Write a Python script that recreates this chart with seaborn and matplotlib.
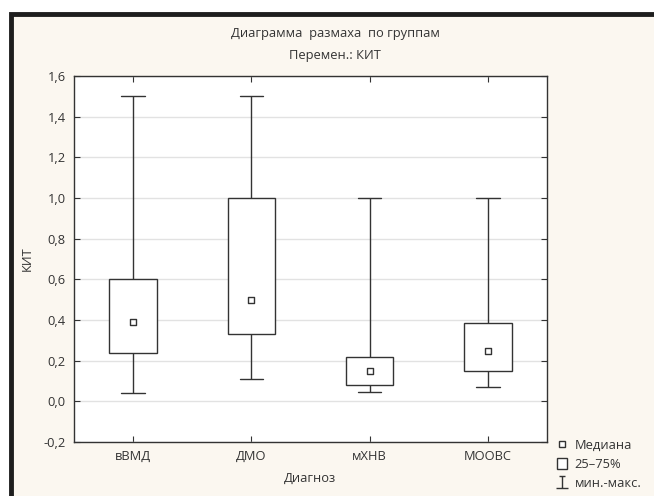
import numpy as np
import pandas as pd
import matplotlib
matplotlib.use("Agg")
import matplotlib.pyplot as plt
import seaborn as sns
from matplotlib.patches import Rectangle, Patch
from matplotlib.lines import Line2D
from matplotlib.path import Path
from matplotlib.ticker import FuncFormatter, MultipleLocator

# ---- data ----
groups = ["вВМД", "ДМО", "мХНВ", "МООВС"]
mins = [0.042, 0.11, 0.045, 0.07]
q1 = [0.238, 0.333, 0.08, 0.147]
medians = [0.39, 0.50, 0.148, 0.25]
q3 = [0.60, 1.00, 0.218, 0.385]
maxs = [1.50, 1.50, 1.00, 1.00]

title1 = "Диаграмма  размаха  по группам"
title2 = "Перемен.: КИТ"
xlabel = "Диагноз"
ylabel = "КИТ"
legend_labels = ["Медиана", "25–75%", "мин.-макс."]

# five-number summaries -> 5 values per group (quartiles fall exactly on them)
rows = []
for g, a, b, c, d, e in zip(groups, mins, q1, medians, q3, maxs):
    for v in (a, b, c, d, e):
        rows.append((g, v))
df = pd.DataFrame(rows, columns=[xlabel, ylabel])
med_df = pd.DataFrame({xlabel: groups, ylabel: medians})

W, H = 654, 496
cream = "#fbf7f0"
dark = "#1e1e1e"
ink = "#333333"
fs = 9.3

sns.set_theme(style="white")
plt.rcParams["font.family"] = ["Open Sans", "DejaVu Sans"]

fig = plt.figure(figsize=(W / 100, H / 100), dpi=100, facecolor="white")
frame = Rectangle((10.5 / W, -0.2), 1.5, (H - 14) / H + 0.2,
                  transform=fig.transFigure, facecolor=cream,
                  edgecolor=dark, linewidth=3.5, zorder=-10)
fig.patches.append(frame)

ax = fig.add_axes([74 / W, 1 - 442 / H, (547 - 74) / W, (442 - 76) / H])
ax.set_zorder(1)
ax.set_facecolor("white")

sns.boxplot(data=df, x=xlabel, y=ylabel, order=groups, whis=(0, 100),
            width=0.4, color="white", linecolor=ink, linewidth=1.0,
            saturation=1, medianprops={"visible": False}, ax=ax)
sns.scatterplot(data=med_df, x=xlabel, y=ylabel, marker="s", s=18,
                facecolor="white", edgecolor=ink, linewidth=1.0,
                ax=ax, zorder=5, legend=False)

ax.set_xlim(-0.5, 3.5)
ax.set_ylim(-0.2, 1.6)
ax.yaxis.set_major_locator(MultipleLocator(0.2))
ax.yaxis.set_major_formatter(FuncFormatter(lambda v, p: f"{v:.1f}".replace(".", ",").replace("-0,0", "0,0")))
ax.yaxis.grid(True, color="#e2e2e2", linewidth=1)
ax.set_axisbelow(True)
ax.tick_params(direction="in", top=True, right=True, left=True, bottom=True,
               length=4, width=0.8, color=ink, labelcolor=ink, labelsize=fs, pad=6)
for s in ax.spines.values():
    s.set_color(ink)
    s.set_linewidth(1.0)
ax.set_xlabel(xlabel, fontsize=fs, color=ink, labelpad=6)
ax.set_ylabel(ylabel, fontsize=fs, color=ink, labelpad=7)

fig.text(335 / W, 1 - 34 / H, title1, ha="center", va="center", fontsize=fs, color=ink)
fig.text(335 / W, 1 - 55 / H, title2, ha="center", va="center", fontsize=fs, color=ink)

ivert = [(-0.5, 1), (0.5, 1), (0, 1), (0, -1), (-1, -1), (1, -1)]
icodes = [Path.MOVETO, Path.LINETO, Path.MOVETO, Path.LINETO, Path.MOVETO, Path.LINETO]
imarker = Path(ivert, icodes)
handles = [
    Line2D([], [], marker="s", ls="", markersize=4.5, markerfacecolor="white",
           markeredgecolor=ink, markeredgewidth=1.0),
    Patch(facecolor="white", edgecolor=ink, linewidth=1.0),
    Line2D([], [], marker=imarker, ls="", markersize=9, color=ink,
           markeredgewidth=1.0, markerfacecolor="none"),
]
fig.legend(handles, legend_labels, loc="upper left",
           bbox_to_anchor=(557 / W, 1 - 439 / H), frameon=False, fontsize=fs,
           handlelength=0.8, handleheight=0.9, handletextpad=0.55,
           labelspacing=0.45, borderpad=0, borderaxespad=0, labelcolor=ink)

fig.savefig("out.png", dpi=100, facecolor=fig.get_facecolor())
